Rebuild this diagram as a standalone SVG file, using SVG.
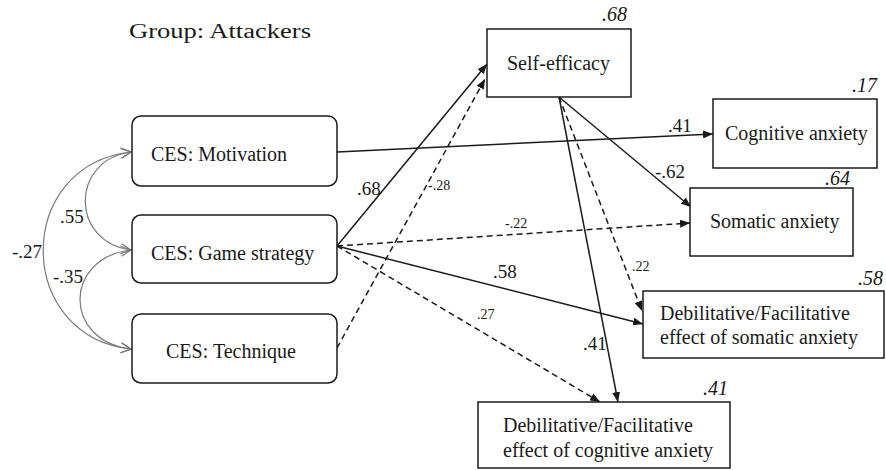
<svg xmlns="http://www.w3.org/2000/svg" width="886" height="470" viewBox="0 0 886 470">
  <style>
    .box { fill: #fff; stroke: #1a1a1a; stroke-width: 1.5; }
    text { fill: #1a1a1a; }
    .t { font-size: 20px; }
    .r2 { font-size: 20px; font-style: italic; }
    .w { font-size: 19px; }
    .ws { font-size: 14px; }
    .path { fill: none; stroke: #1a1a1a; stroke-width: 1.5; marker-end: url(#arrow); }
    .dash { stroke-dasharray: 6 4; }
    .cov { fill: none; stroke: #7a7a7a; stroke-width: 1.2; marker-start: url(#open); marker-end: url(#open); }
  </style>
  <defs>
    <marker id="arrow" viewBox="0 0 10 8" refX="10" refY="4" markerWidth="10" markerHeight="8" markerUnits="userSpaceOnUse" orient="auto">
      <path d="M0,0 L10,4 L0,8 Z" fill="#1a1a1a"/>
    </marker>
    <marker id="open" viewBox="0 0 12 12" refX="11" refY="6" markerWidth="12" markerHeight="12" markerUnits="userSpaceOnUse" orient="auto-start-reverse">
      <path d="M1,1 L11,6 L1,11" fill="none" stroke="#7a7a7a" stroke-width="1.2"/>
    </marker>
  </defs>

  <g font-family="Liberation Serif, Times New Roman, serif">
  <text class="t" x="129" y="38" font-size="23" textLength="182" lengthAdjust="spacingAndGlyphs">Group: Attackers</text>

  <!-- connectors -->
  <g id="connectors">
    <!-- correlations among CES scales -->
    <path class="cov" d="M131,152 C70,160 70,242 131,250"/>
    <path class="cov" d="M131,250 C63,258 63,341 131,349"/>
    <path class="cov" d="M131,152 C14,165 14,336 131,349"/>
    <text class="w" x="60" y="223">.55</text>
    <text class="w" x="53" y="283">-.35</text>
    <text class="w" x="12" y="258">-.27</text>

    <!-- regression paths -->
    <line class="path" x1="337" y1="152" x2="713" y2="134"/>
    <line class="path" x1="337" y1="246" x2="487" y2="64"/>
    <line class="path dash" x1="337" y1="348" x2="485" y2="79"/>
    <line class="path" x1="559" y1="97" x2="691" y2="207"/>
    <line class="path dash" x1="337" y1="246" x2="690" y2="223"/>
    <line class="path dash" x1="559" y1="97" x2="642" y2="311"/>
    <line class="path" x1="337" y1="246" x2="643" y2="324"/>
    <line class="path" x1="559" y1="97" x2="618" y2="402"/>
    <line class="path dash" x1="337" y1="246" x2="600" y2="402"/>

    <text class="w" x="668" y="132">.41</text>
    <text class="w" x="357" y="195">.68</text>
    <text class="ws" x="428" y="190">-.28</text>
    <text class="w" x="655" y="178">-.62</text>
    <text class="ws" x="505" y="228">-.22</text>
    <text class="w" x="493" y="278">.58</text>
    <text class="ws" x="632" y="271">.22</text>
    <text class="ws" x="477" y="319">.27</text>
    <text class="w" x="583" y="350">.41</text>
  </g>

  <g id="ces-motivation">
    <rect class="box" x="132" y="116" width="205" height="70" rx="9"/>
    <text class="t" x="151" y="161">CES: Motivation</text>
  </g>
  <g id="ces-game-strategy">
    <rect class="box" x="132" y="215" width="205" height="68" rx="9"/>
    <text class="t" x="151" y="260">CES: Game strategy</text>
  </g>
  <g id="ces-technique">
    <rect class="box" x="132" y="314" width="205" height="69" rx="9"/>
    <text class="t" x="166" y="358">CES: Technique</text>
  </g>
  <g id="self-efficacy">
    <rect class="box" x="487" y="29" width="144" height="68"/>
    <text class="t" x="507" y="70">Self-efficacy</text>
    <text class="r2" x="627" y="21" text-anchor="end">.68</text>
  </g>
  <g id="cognitive-anxiety">
    <rect class="box" x="713" y="99" width="164" height="69"/>
    <text class="t" x="725" y="140">Cognitive anxiety</text>
    <text class="r2" x="877" y="92" text-anchor="end">.17</text>
  </g>
  <g id="somatic-anxiety">
    <rect class="box" x="690" y="188" width="163" height="68"/>
    <text class="t" x="710" y="228">Somatic anxiety</text>
    <text class="r2" x="850" y="185" text-anchor="end">.64</text>
  </g>
  <g id="deb-fac-somatic">
    <rect class="box" x="643" y="291" width="241" height="67"/>
    <text class="t" x="660" y="320">Debilitative/Facilitative</text>
    <text class="t" x="660" y="344">effect of somatic anxiety</text>
    <text class="r2" x="883" y="285" text-anchor="end">.58</text>
  </g>
  <g id="deb-fac-cognitive">
    <rect class="box" x="478" y="402" width="252" height="66"/>
    <text class="t" x="503" y="432">Debilitative/Facilitative</text>
    <text class="t" x="503" y="457">effect of cognitive anxiety</text>
    <text class="r2" x="728" y="395" text-anchor="end">.41</text>
  </g>
  </g>
</svg>
